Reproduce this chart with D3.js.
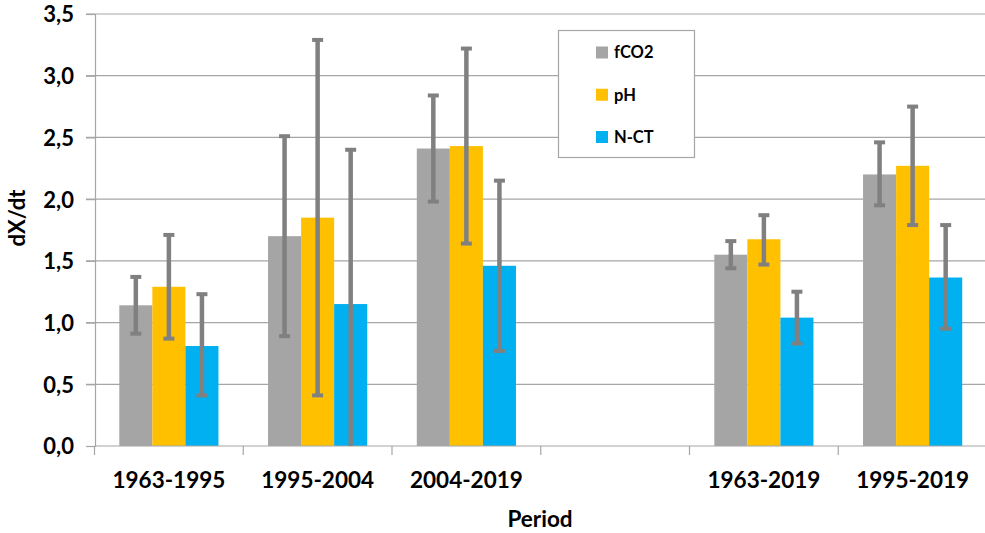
<!DOCTYPE html>
<html>
<head>
<meta charset="utf-8">
<script src="https://cdn.jsdelivr.net/npm/d3@7/dist/d3.min.js"></script>
<style>
  html, body { margin: 0; padding: 0; background: #fff; }
  svg { display: block; }
  text { font-family: Lato, "Open Sans", "Liberation Sans", sans-serif; font-weight: bold; fill: #000; }
</style>
</head>
<body>
<svg id="chart" width="985" height="533"></svg>
<script>
const categories = ["1963-1995", "1995-2004", "2004-2019", "", "1963-2019", "1995-2019"];
const seriesNames = ["fCO2", "pH", "N-CT"];
const fco2   = [1.14, 1.70, 2.41, null, 1.55, 2.20];
const fco2Lo = [0.91, 0.89, 1.98, null, 1.44, 1.95];
const fco2Hi = [1.37, 2.51, 2.84, null, 1.66, 2.46];
const ph     = [1.29, 1.85, 2.43, null, 1.675, 2.27];
const phLo   = [0.87, 0.41, 1.64, null, 1.47, 1.79];
const phHi   = [1.71, 3.29, 3.22, null, 1.87, 2.75];
const nct    = [0.81, 1.15, 1.46, null, 1.04, 1.365];
const nctLo  = [0.41, -0.10, 0.77, null, 0.83, 0.95];
const nctHi  = [1.23, 2.40, 2.15, null, 1.25, 1.79];
const yTicks = [0, 0.5, 1.0, 1.5, 2.0, 2.5, 3.0, 3.5];
const colors = ["#a5a5a5", "#ffc000", "#00b0f0"];

(function () {
const values = [fco2, ph, nct];
const lows = [fco2Lo, phLo, nctLo];
const highs = [fco2Hi, phHi, nctHi];

const svg = d3.select("#chart");
const mLeft = 95, mRight = 987, mTop = 14, mBottom = 446;

const catKeys = categories.map((c, i) => i);
const x = d3.scaleBand().domain(catKeys).range([mLeft - 0.5, mRight]).padding(0);
const x1 = d3.scaleBand().domain(seriesNames).range([0, x.bandwidth()]).paddingInner(0).paddingOuter(0.75);
const y = d3.scaleLinear().domain([0, 3.5]).range([mBottom, mTop]);
const fmt = v => d3.format(".1f")(v).replace(".", ",");

// gridlines
svg.append("g")
  .selectAll("line").data(yTicks.filter(t => t > 0)).join("line")
  .attr("x1", mLeft - 9).attr("x2", 985)
  .attr("y1", d => y(d)).attr("y2", d => y(d))
  .attr("stroke", "#a6a6a6").attr("stroke-width", 1.2);

// y axis
const yAxis = svg.append("g").attr("transform", `translate(${mLeft},0)`)
  .call(d3.axisLeft(y).tickValues(yTicks).tickFormat(fmt).tickSize(9).tickPadding(12));
yAxis.select(".domain").attr("stroke", "#a6a6a6").attr("stroke-width", 1.2);
yAxis.selectAll(".tick line").attr("stroke", "#a6a6a6").attr("stroke-width", 1.2);
yAxis.selectAll(".tick text").style("font-size", "22px").attr("dy", "0.36em")
  .style("font-family", "Lato, sans-serif").style("font-weight", "bold").attr("fill", "#000");

// bars
const gBars = svg.append("g");
seriesNames.forEach((s, si) => {
  const data = catKeys.filter(i => values[si][i] != null).map(i => ({ i, v: values[si][i] }));
  gBars.selectAll(null).data(data).join("rect")
    .attr("x", d => x(d.i) + x1(s))
    .attr("width", x1.bandwidth())
    .attr("y", d => y(d.v))
    .attr("height", d => y(0) - y(d.v))
    .attr("fill", colors[si]);
});

// x axis
const xAxis = svg.append("g").attr("transform", `translate(0,${mBottom})`)
  .call(d3.axisBottom(x).tickFormat(i => categories[i]).tickSize(0).tickPadding(26));
xAxis.select(".domain").remove();
xAxis.selectAll(".tick text").style("font-size", "22.5px")
  .style("font-family", "Lato, sans-serif").style("font-weight", "bold").attr("fill", "#000");
svg.append("line").attr("x1", mLeft).attr("x2", 985).attr("y1", mBottom).attr("y2", mBottom)
  .attr("stroke", "#a6a6a6").attr("stroke-width", 1.2);
svg.append("g").selectAll("line").data(catKeys.concat([catKeys.length])).join("line")
  .attr("x1", d => d < catKeys.length ? x(d) : x(catKeys.length - 1) + x.bandwidth())
  .attr("x2", d => d < catKeys.length ? x(d) : x(catKeys.length - 1) + x.bandwidth())
  .attr("y1", mBottom).attr("y2", mBottom + 9)
  .attr("stroke", "#a6a6a6").attr("stroke-width", 1.2);

// error bars
svg.append("defs").append("clipPath").attr("id", "plotclip")
  .append("rect").attr("x", mLeft).attr("y", 0).attr("width", 985 - mLeft).attr("height", mBottom);
const gErr = svg.append("g").attr("clip-path", "url(#plotclip)");
seriesNames.forEach((s, si) => {
  catKeys.filter(i => values[si][i] != null).forEach(i => {
    const cx = x(i) + x1(s) + x1.bandwidth() / 2;
    const yl = y(lows[si][i]), yh = y(highs[si][i]);
    gErr.append("line").attr("x1", cx).attr("x2", cx).attr("y1", yl).attr("y2", yh)
      .attr("stroke", "#808080").attr("stroke-width", 4.5);
    [yl, yh].forEach(yy => {
      gErr.append("line").attr("x1", cx - 5.5).attr("x2", cx + 5.5).attr("y1", yy).attr("y2", yy)
        .attr("stroke", "#808080").attr("stroke-width", 4);
    });
  });
});

// axis titles
svg.append("text").attr("x", 540).attr("y", 527).attr("text-anchor", "middle")
  .style("font-size", "22.5px").text("Period");
svg.append("text").attr("transform", "translate(25,218) rotate(-90)").attr("text-anchor", "middle")
  .style("font-size", "22px").text("dX/dt");

// legend
const lg = svg.append("g");
lg.append("rect").attr("x", 558.5).attr("y", 30.5).attr("width", 136).attr("height", 127)
  .attr("fill", "#fff").attr("stroke", "#a6a6a6").attr("stroke-width", 1.2);
const ly = d3.scalePoint().domain(seriesNames).range([52.5, 137]);
seriesNames.forEach((s, si) => {
  lg.append("rect").attr("x", 596).attr("y", ly(s) - 6).attr("width", 12).attr("height", 12).attr("fill", colors[si]);
  lg.append("text").attr("x", 614).attr("y", ly(s)).attr("dy", "0.36em")
    .style("font-size", "16.5px").text(s);
});
})();
</script>
</body>
</html>
